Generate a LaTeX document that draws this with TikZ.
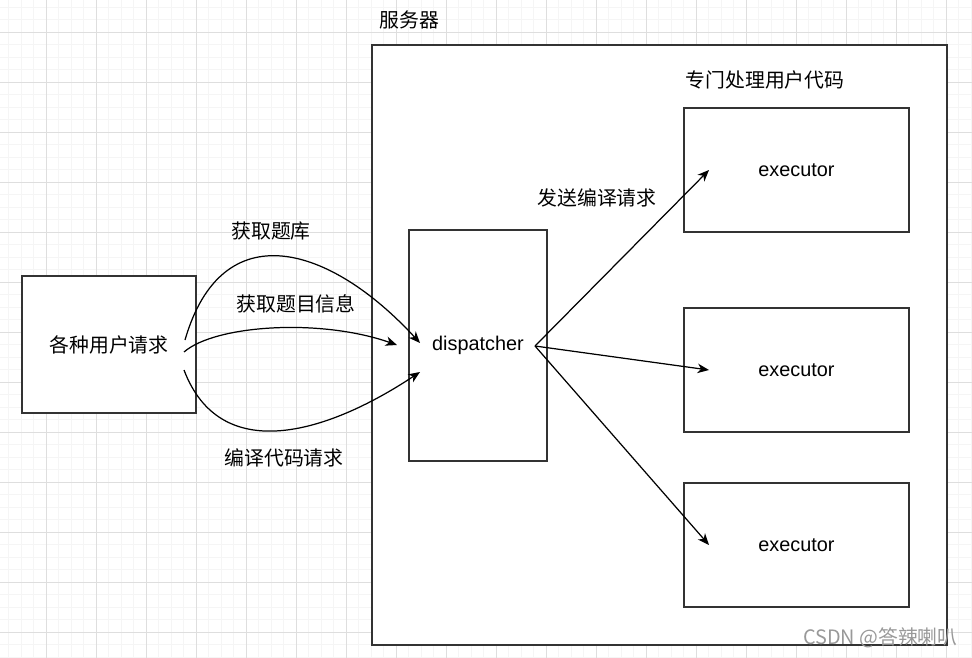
\documentclass[tikz,border=0pt]{standalone}
\usepackage{fontspec}
\setmainfont{Liberation Sans}
\newfontfamily\cjk{Noto Sans CJK SC}
\usepackage{tikz}
\usetikzlibrary{calc,shapes,positioning}
\usetikzlibrary{arrows.meta}
\tikzset{>={Stealth[length=2.3mm,width=1.9mm,inset=0.7mm]}}

\begin{document}
\begin{tikzpicture}[x=0.02cm,y=-0.02cm]
        \begin{scope}[font=\fontsize{11.3}{13}\selectfont]

          \tikzstyle{bnode} = [draw=black!80, fill=white, line width=0.9pt, rectangle, inner sep = 0pt, align=center]
          \tikzstyle{tnode} = [inner sep = 0pt, align=center]
          \tikzstyle{flow} = [->, line width=0.7pt]

          \useasboundingbox (0,0) rectangle (972,658);
          \fill[white] (0,0) rectangle (972,658);
          % grid
          \foreach \i in {0,...,77} {
            \draw[black!4, line width=0.5pt] ({8.5+12.5*\i},0) -- ({8.5+12.5*\i},658);
          }
          \foreach \i in {0,...,53} {
            \draw[black!4, line width=0.5pt] (0,{7+12.5*\i}) -- (972,{7+12.5*\i});
          }
          \foreach \i in {0,...,19} {
            \draw[black!13, line width=0.5pt] ({46+50*\i},0) -- ({46+50*\i},658);
          }
          \foreach \i in {0,...,12} {
            \draw[black!13, line width=0.5pt] (0,{32+50*\i}) -- (972,{32+50*\i});
          }

          \node[bnode, line width=1.1pt, minimum width=11.5cm, minimum height=12cm] (server) at (659.5,345) {};
          \node[tnode, anchor=west] (serverlbl) at (379,20) {\cjk 服务器};

          \node[bnode, minimum width=3.48cm, minimum height=2.74cm] (client) at (109,344.5) {\cjk 各种用户请求};
          \node[bnode, minimum width=2.76cm, minimum height=4.62cm] (disp) at (478,345.5) {dispatcher};

          \node[bnode, minimum width=4.5cm, minimum height=2.48cm] (ex1) at (796.5,170) {executor};
          \node[bnode, minimum width=4.5cm, minimum height=2.48cm] (ex2) at (796.5,370) {executor};
          \node[bnode, minimum width=4.5cm, minimum height=2.48cm] (ex3) at (796.5,545) {executor};

          \node[tnode] (exlbl) at (765,80) {\cjk 专门处理用户代码};
          \node[tnode] (sendlbl) at (597,198) {\cjk 发送编译请求};
          \node[tnode] (banklbl) at (271,231) {\cjk 获取题库};
          \node[tnode] (infolbl) at (296,304) {\cjk 获取题目信息};
          \node[tnode] (compilbl) at (284,458) {\cjk 编译代码请求};

          \coordinate (c1) at (185,340);
          \coordinate (c2) at (184,352);
          \coordinate (c3) at (184,370);
          \coordinate (d1) at (420,343);
          \coordinate (d2) at (397,345);
          \coordinate (d3) at (420,372);
          \coordinate (dout) at (535,346);
          \coordinate (e1) at (709,170);
          \coordinate (e2) at (709,370);
          \coordinate (e3) at (709,545);

          \draw[flow] (c1) .. controls (222,212) and (330,245) .. (d1);
          \draw[flow] (c2) .. controls (215,325) and (320,318) .. (d2);
          \draw[flow] (c3) .. controls (220,465) and (325,435) .. (d3);

          \draw[flow] (dout) -- (e1);
          \draw[flow] (dout) -- (e2);
          \draw[flow] (dout) -- (e3);

          \node[tnode, text=black!40, anchor=east] (mark) at (958,638) {\cjk CSDN @答辣喇叭};

        \end{scope}
      \end{tikzpicture}
\end{document}
